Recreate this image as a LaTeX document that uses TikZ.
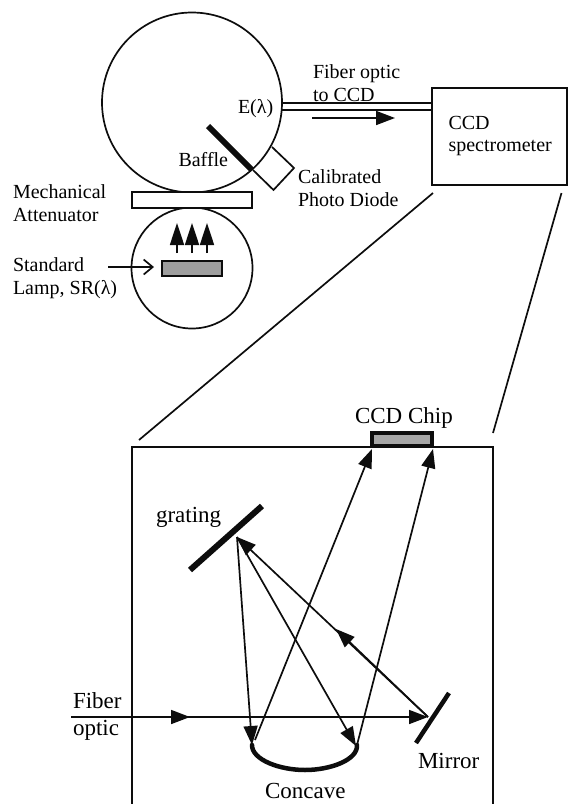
\documentclass[tikz,border=0pt]{standalone}
\usepackage{fontspec}
\setmainfont{Liberation Serif}
\usetikzlibrary{arrows.meta}
\tikzset{
  x=1pt,y=-1pt,
  line/.style={line width=1.7pt,draw=black!95},
  obj/.style={line,inner sep=0pt,outer sep=0pt},
  ball/.style={obj,circle},
  bar/.style={obj,rectangle},
  gray box/.style={bar,fill=black!38},
  thick bar/.style={line width=6pt,draw=black!95},
  tip/.style={-{Triangle[length=19pt,width=14pt]}},
  uptip/.style={-{Triangle[length=22pt,width=14pt]}},
  label/.style={font=\fontsize{20pt}{22.8pt}\selectfont,inner sep=0pt,outer sep=0pt,align=left,text=black},
  biglabel/.style={font=\fontsize{23pt}{27pt}\selectfont},
  one/.style={label,anchor=base west},
  two/.style={label,anchor=west},
}
\begin{document}
\begin{tikzpicture}
\useasboundingbox (0,0) rectangle (568,804);
% upper assembly
\node[ball,minimum size=180pt] (sphere) at (192,102.5) {};
\node[ball,minimum size=121pt] (lampball) at (192,268) {};
\node[bar,fill=white,minimum width=120pt,minimum height=16pt] (atten) at (192,200) {};
\node[gray box,minimum width=60pt,minimum height=15pt] (lamp) at (192,268.5) {};
\node[bar,minimum width=135pt,minimum height=97pt] (ccd) at (499.5,136.5) {};
% baffle and photodiode
\coordinate (b1) at (208,126); \coordinate (b2) at (252,170);
\draw[thick bar] (b1) -- (b2);
\coordinate (d1) at (272,147); \coordinate (d2) at (294,168);
\coordinate (d3) at (273.5,190); \coordinate (d4) at (253,170);
\draw[line] (d1) -- (d2) -- (d3) -- (d4);
% fibre
\coordinate (f1) at (282,103); \coordinate (f2) at (282,110);
\draw[line] (f1) -- (f1 -| ccd.west);
\draw[line] (f2) -- (f2 -| ccd.west);
\coordinate (fa) at (312,118); \coordinate (fb) at (395,118);
\draw[line,tip] (fa) -- (fb);
% lamp arrows
\foreach \n/\x in {p/177,q/192,r/207}{
  \coordinate (\n0) at (\x,253); \coordinate (\n1) at (\x,223);
  \draw[line,uptip] (\n0) -- (\n1);
}
\coordinate (sa) at (108,267); \coordinate (sb) at (154,267);
\draw[line,-{Straight Barb[length=9pt,width=15pt]}] (sa) -- (sb);
% zoom lines
\coordinate (zl0) at (433,193); \coordinate (zl1) at (139,440);
\coordinate (zr0) at (561.5,193); \coordinate (zr1) at (493,433);
\draw[line] (zl0) -- (zl1);
\draw[line] (zr0) -- (zr1);
% lower box
\coordinate (bx1) at (132,804); \coordinate (bx2) at (132,447);
\coordinate (bx3) at (493,447); \coordinate (bx4) at (493,804);
\draw[line] (bx1) -- (bx2) -- (bx3) -- (bx4);
\node[bar,fill=black!35,line width=3.6pt,minimum width=60.5pt,minimum height=13.5pt] (chip) at (402,439.5) {};
% optics
\coordinate (g1) at (262,506); \coordinate (g2) at (190,570);
\draw[thick bar] (g1) -- (g2);
\coordinate (m1) at (449,693); \coordinate (m2) at (416,743);
\draw[line width=4.5pt,draw=black!95] (m1) -- (m2);
\coordinate (cl) at (252,745); \coordinate (cr) at (357,745);
\draw[line width=4.5pt,draw=black!95,line cap=round] (cl) .. controls (252,760) and (280,770) .. (305,770) .. controls (330,770) and (358,760) .. (cr);
% rays
\coordinate (apex) at (237,537);
\coordinate (mirr) at (428,717);
\coordinate (in) at (71,717);
\coordinate (inmid) at (190,717);
\coordinate (raymid) at (336,629);
\coordinate (cl2) at (252,745); \coordinate (cr2) at (356,746);
\coordinate (chipl) at (372,449); \coordinate (chipr) at (433,449);
\coordinate (cs1) at (255,740); \coordinate (cs2) at (357,745);
\draw[line,tip] (in) -- (mirr);
\draw[line,tip] (in) -- (inmid);
\draw[line,tip] (apex) -- (cl2);
\draw[line,tip] (apex) -- (cr2);
\draw[line,tip] (cs1) -- (chipl);
\draw[line,tip] (cs2) -- (chipr);
\draw[line,tip] (mirr) -- (apex);
\draw[line,tip] (mirr) -- (raymid);
% labels
\node[one] (t1) at (238,113) {E(λ)};
\node[two] (t2) at (313,83.5) {Fiber optic\\to CCD};
\node[two] (t3) at (448.5,136) {CCD\\spectrometer};
\node[one] (t4) at (178.5,166) {Baffle};
\node[two] (t5) at (298,188) {Calibrated\\Photo Diode};
\node[two] (t6) at (13,203) {Mechanical\\Attenuator};
\node[two] (t7) at (13,278) {Standard\\Lamp, SR(λ)};
\node[one,biglabel] (t8) at (355,423) {CCD Chip};
\node[one,biglabel] (t9) at (156,522) {grating};
\node[two,biglabel] (t10) at (73,716.5) {Fiber\\optic};
\node[one,biglabel] (t11) at (418,768) {Mirror};
\node[one,biglabel] (t12) at (265,798) {Concave};
\end{tikzpicture}
\end{document}
